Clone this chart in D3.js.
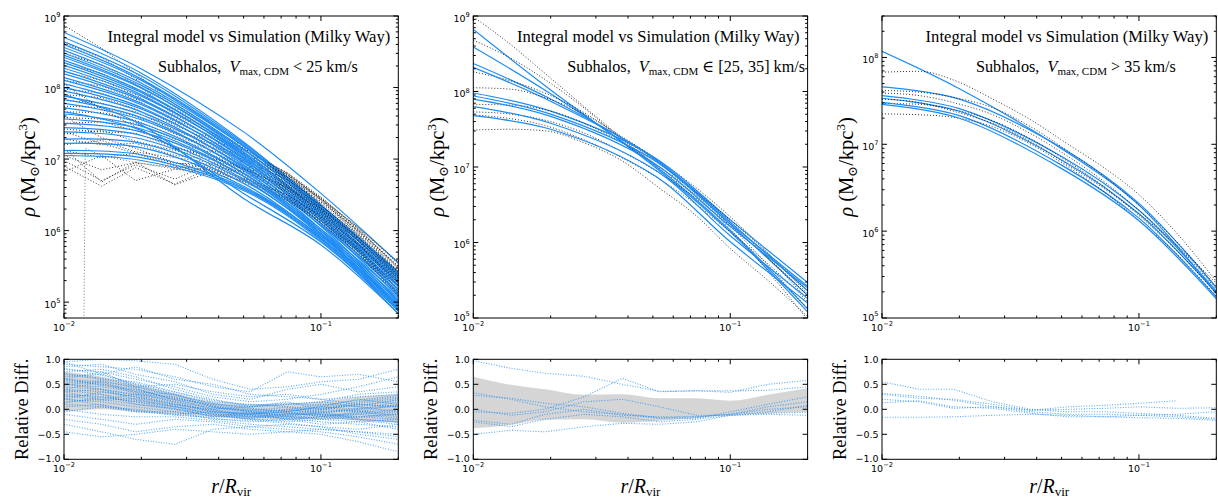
<!DOCTYPE html>
<html>
<head>
<meta charset="utf-8">
<script src="https://cdn.jsdelivr.net/npm/d3@7"></script>
<style>
  body { margin: 0; background: #fff; }
  svg text { white-space: pre; }
</style>
</head>
<body>
<svg id="fig" width="1218" height="500"></svg>
<script>
// ---------------- data ----------------
// radial sampling (r / R_vir)
const radiiModel = [0.01, 0.02, 0.05, 0.1, 0.2];
const radiiSim = [0.010, 0.014, 0.019, 0.027, 0.038, 0.053, 0.074, 0.10, 0.14, 0.20];

// Milky Way subhalos, Vmax,CDM < 25 km/s : log10 rho [Msun/kpc^3]
const lowModel = [
  [8.77, 8.26, 7.38, 6.52, 5.55], [8.70, 8.20, 7.24, 6.34, 5.40], [8.64, 8.16, 7.22, 6.36, 5.42],
  [8.60, 8.12, 7.20, 6.32, 5.36], [8.56, 8.10, 7.18, 6.31, 5.35], [8.52, 8.06, 7.18, 6.34, 5.42],
  [8.48, 8.03, 7.14, 6.28, 5.30], [8.45, 8.00, 7.10, 6.24, 5.27], [8.42, 7.99, 7.13, 6.30, 5.38],
  [8.38, 7.95, 7.07, 6.21, 5.22], [8.35, 7.93, 7.09, 6.26, 5.33], [8.31, 7.90, 7.04, 6.18, 5.18],
  [8.27, 7.88, 7.06, 6.24, 5.30], [8.23, 7.84, 7.00, 6.14, 5.12], [8.19, 7.82, 7.02, 6.20, 5.27],
  [8.14, 7.78, 6.96, 6.10, 5.08], [8.10, 7.76, 6.98, 6.17, 5.24], [8.05, 7.72, 6.92, 6.06, 5.03],
  [8.00, 7.70, 6.95, 6.14, 5.22], [7.95, 7.66, 6.88, 6.02, 5.00], [7.90, 7.48, 6.45, 5.80, 4.84],
  [7.88, 7.62, 6.90, 6.10, 5.18], [7.83, 7.58, 6.84, 5.99, 4.97], [7.78, 7.55, 6.86, 6.07, 5.15],
  [7.72, 7.50, 6.80, 5.96, 4.94], [7.66, 7.40, 6.52, 5.84, 4.88], [7.63, 7.46, 6.80, 6.02, 5.10],
  [7.56, 7.42, 6.76, 5.95, 4.95], [7.50, 7.38, 6.76, 5.99, 5.06], [7.44, 7.33, 6.72, 5.93, 4.92],
  [7.38, 7.28, 6.70, 5.96, 5.02], [7.28, 7.22, 6.66, 5.90, 4.90], [7.22, 7.16, 6.62, 5.92, 4.98],
  [7.12, 7.06, 6.60, 5.88, 4.88], [7.08, 7.02, 6.58, 5.89, 4.94], [7.05, 6.98, 6.56, 5.86, 4.84]
];
const lowSim = [
  [8.87, 8.55, 8.20, 7.76, 7.43, 7.10, 6.78, 6.37, 5.85, 5.23],
  [8.62, 8.42, 8.12, 7.72, 7.40, 7.10, 6.80, 6.43, 5.94, 5.36],
  [8.48, 8.32, 8.05, 7.66, 7.37, 7.08, 6.80, 6.45, 5.98, 5.43],
  [8.34, 8.20, 7.98, 7.62, 7.35, 7.07, 6.81, 6.47, 6.02, 5.48],
  [8.22, 8.10, 7.90, 7.56, 7.31, 7.04, 6.78, 6.45, 6.02, 5.50],
  [8.10, 8.02, 7.84, 7.52, 7.28, 7.03, 6.78, 6.46, 6.04, 5.54],
  [7.98, 7.92, 7.76, 7.47, 7.25, 7.01, 6.76, 6.43, 6.00, 5.48],
  [7.90, 7.86, 7.70, 7.42, 7.22, 6.98, 6.74, 6.41, 5.98, 5.46],
  [7.82, 7.78, 7.66, 7.40, 7.20, 6.98, 6.75, 6.44, 6.04, 5.56],
  [7.74, 7.72, 7.60, 7.35, 7.17, 6.95, 6.71, 6.38, 5.96, 5.43],
  [7.66, 7.65, 7.54, 7.32, 7.15, 6.94, 6.71, 6.40, 6.00, 5.50],
  [7.58, 7.56, 7.50, 7.28, 7.12, 6.91, 6.68, 6.35, 5.93, 5.40],
  [7.50, 7.52, 7.40, 7.22, 7.09, 6.88, 6.66, 6.35, 5.94, 5.42],
  [7.42, 7.38, 7.36, 7.16, 7.05, 6.86, 6.64, 6.32, 5.90, 5.36],
  [7.35, 7.40, 7.25, 7.12, 7.01, 6.84, 6.62, 6.31, 5.90, 5.38],
  [7.28, 7.20, 7.22, 7.05, 6.99, 6.82, 6.60, 6.28, 5.85, 5.30],
  [7.20, 7.26, 7.10, 7.02, 6.95, 6.80, 6.58, 6.27, 5.86, 5.33],
  [7.12, 7.02, 7.08, 6.94, 6.93, 6.78, 6.56, 6.25, 5.82, 5.26],
  [7.05, 6.85, 6.95, 6.88, 6.91, 6.76, 6.54, 6.23, 5.80, 5.23],
  [6.98, 6.70, 6.92, 6.72, 6.95, 6.72, 6.50, 6.19, 5.76, 5.18],
  [6.90, 6.62, 6.88, 6.65, 6.89, 6.70, 6.48, 6.17, 5.74, 5.16],
  [6.82, 7.05, 6.70, 6.86, 6.79, 6.68, 6.46, 6.15, 5.72, 5.13],
  [7.15, 6.68, 6.96, 6.64, 6.83, 6.66, 6.44, 6.13, 5.70, 5.10],
  [7.38, 7.22, 7.08, 6.90, 6.85, 6.64, 6.42, 6.11, 5.68, 5.08],
  [7.60, 7.30, 7.15, 6.95, 6.87, 6.70, 6.50, 6.21, 5.80, 5.28],
  [8.05, 7.70, 7.45, 7.15, 7.03, 6.83, 6.60, 6.30, 5.88, 5.33]
];
// one simulated profile that has no particles inside r = 0.0118
const lowSimEmptyCoreRadii = [0.0118, 0.0121, 0.014, 0.019, 0.027, 0.038, 0.053, 0.074, 0.10, 0.14, 0.20];
const lowSimEmptyCore = [2.0, 7.15, 7.05, 6.95, 6.86, 6.85, 6.68, 6.44, 6.13, 5.70, 5.13];

const lowResid = [
  [0.95, 1.00, 0.97, 0.90, 0.60, 0.40, 0.45, 0.55, 0.60, 0.80],
  [0.90, 0.85, 0.80, 0.65, 0.45, 0.35, 0.75, 0.65, 0.70, 0.55],
  [0.85, 0.90, 0.70, 0.55, 0.30, 0.20, 0.40, 0.50, 0.35, 0.45],
  [0.80, 0.75, 0.60, 0.45, 0.25, 0.15, 0.20, 0.30, 0.45, 0.65],
  [0.75, 0.80, 0.65, 0.40, 0.20, 0.05, 0.10, 0.15, 0.30, 0.35],
  [0.70, 0.60, 0.55, 0.35, 0.15, 0.10, 0.05, 0.00, 0.15, 0.25],
  [0.65, 0.70, 0.50, 0.30, 0.10, 0.00, -0.05, 0.05, 0.20, 0.10],
  [0.60, 0.55, 0.45, 0.25, 0.05, -0.05, 0.00, 0.10, 0.05, 0.20],
  [0.55, 0.50, 0.40, 0.20, 0.00, -0.10, -0.10, 0.00, 0.10, 0.05],
  [0.50, 0.45, 0.35, 0.30, 0.05, -0.05, -0.15, -0.05, 0.00, 0.15],
  [0.45, 0.40, 0.30, 0.15, -0.05, -0.10, -0.05, 0.05, -0.05, 0.00],
  [0.40, 0.35, 0.25, 0.10, -0.02, -0.15, -0.10, -0.10, -0.10, -0.05],
  [0.35, 0.40, 0.20, 0.05, -0.05, -0.08, -0.20, -0.15, -0.05, -0.15],
  [0.30, 0.25, 0.15, 0.05, -0.10, -0.12, -0.15, -0.20, -0.15, -0.10],
  [0.25, 0.30, 0.10, 0.00, -0.08, -0.18, -0.12, -0.05, -0.20, -0.25],
  [0.20, 0.15, 0.05, -0.05, -0.12, -0.20, -0.25, -0.20, -0.25, -0.20],
  [0.15, 0.20, 0.10, 0.02, -0.15, -0.15, -0.18, -0.25, -0.30, -0.35],
  [0.10, 0.05, 0.00, -0.10, -0.18, -0.25, -0.20, -0.30, -0.25, -0.40],
  [0.05, 0.10, -0.05, -0.05, -0.20, -0.22, -0.28, -0.35, -0.40, -0.30],
  [0.00, -0.10, -0.15, -0.15, -0.22, -0.30, -0.35, -0.40, -0.45, -0.55],
  [-0.10, -0.20, -0.30, -0.20, -0.25, -0.35, -0.40, -0.45, -0.55, -0.70],
  [-0.20, -0.30, -0.45, -0.35, -0.30, -0.40, -0.45, -0.50, -0.65, -0.85],
  [-0.30, -0.45, -0.60, -0.70, -0.40, -0.35, -0.30, -0.35, -0.50, -0.60],
  [-0.45, -0.55, -0.50, -0.40, -0.45, -0.50, -0.45, -0.40, -0.45, -0.50],
  [0.95, 0.70, 0.85, 0.60, 0.50, 0.30, 0.25, 0.20, 0.10, 0.05],
  [0.60, 0.75, 0.45, 0.50, 0.35, 0.25, 0.30, 0.20, 0.25, 0.30],
  [0.35, 0.20, 0.30, 0.20, 0.10, 0.05, 0.10, 0.15, 0.05, -0.05],
  [0.20, 0.35, 0.25, 0.10, 0.00, 0.05, 0.15, 0.00, -0.05, 0.10],
  [-0.05, 0.05, -0.05, -0.10, -0.05, -0.10, 0.00, -0.10, -0.15, -0.20],
  [0.40, 0.55, 0.35, 0.15, 0.02, -0.02, -0.08, -0.12, -0.20, -0.25],
  [0.62, 0.48, 0.38, 0.22, 0.08, -0.04, -0.12, -0.08, 0.02, 0.08],
  [0.48, 0.58, 0.42, 0.18, 0.04, -0.08, -0.06, -0.14, -0.08, -0.02],
  [0.72, 0.62, 0.46, 0.28, 0.12, 0.02, -0.04, 0.02, 0.08, 0.18],
  [0.28, 0.18, 0.22, 0.08, -0.02, -0.12, -0.18, -0.10, -0.16, -0.08],
  [0.52, 0.40, 0.28, 0.12, -0.06, -0.16, -0.08, -0.02, 0.12, 0.22],
  [0.12, 0.25, 0.15, 0.00, -0.14, -0.06, -0.14, -0.18, -0.10, -0.18],
  [0.82, 0.68, 0.52, 0.34, 0.18, 0.08, 0.12, 0.08, 0.18, 0.28],
  [0.38, 0.30, 0.18, 0.06, -0.10, -0.20, -0.22, -0.14, -0.22, -0.30],
  [0.58, 0.52, 0.32, 0.24, 0.06, -0.02, 0.04, -0.06, -0.02, -0.12],
  [0.22, 0.08, -0.02, -0.12, -0.16, -0.10, -0.02, 0.06, 0.00, 0.06]
];
const lowBandLo = [-0.05, 0.00, -0.05, -0.10, -0.15, -0.20, -0.20, -0.20, -0.22, -0.28];
const lowBandHi = [0.75, 0.65, 0.50, 0.32, 0.15, 0.10, 0.10, 0.15, 0.25, 0.30];

// Vmax,CDM in [25, 35] km/s
const midModel = [
  [8.82, 8.02, 7.02, 6.14, 5.08], [8.59, 7.97, 7.04, 6.16, 5.12], [8.37, 7.90, 7.12, 6.24, 5.30],
  [8.32, 7.87, 7.13, 6.27, 5.36], [7.98, 7.74, 7.14, 6.30, 5.47], [7.94, 7.70, 7.10, 6.25, 5.42],
  [7.90, 7.67, 7.06, 6.21, 5.40], [7.80, 7.58, 6.98, 6.09, 5.26], [7.68, 7.50, 6.90, 6.01, 5.20]
];
const midSim = [
  [8.99, 8.62, 8.24, 7.80, 7.38, 6.98, 6.60, 6.18, 5.62, 4.98],
  [8.68, 8.44, 8.16, 7.78, 7.36, 7.00, 6.62, 6.22, 5.70, 5.12],
  [8.26, 8.14, 7.98, 7.72, 7.38, 7.04, 6.68, 6.28, 5.80, 5.25],
  [8.05, 8.03, 7.92, 7.70, 7.40, 7.08, 6.72, 6.34, 5.86, 5.32],
  [7.83, 7.82, 7.76, 7.58, 7.32, 7.00, 6.66, 6.30, 5.86, 5.36],
  [7.73, 7.70, 7.62, 7.45, 7.20, 6.92, 6.58, 6.22, 5.80, 5.30],
  [7.69, 7.64, 7.55, 7.36, 7.12, 6.84, 6.50, 6.14, 5.72, 5.22],
  [7.49, 7.50, 7.48, 7.32, 7.08, 6.72, 6.35, 5.92, 5.50, 5.02]
];
const midResid = [
  [0.97, 0.82, 0.72, 0.66, 0.50, 0.36, 0.37, 0.34, 0.50, 0.58],
  [-0.05, -0.08, 0.00, 0.25, 0.62, 0.35, 0.37, 0.37, 0.38, 0.45],
  [0.33, 0.20, 0.05, -0.05, -0.10, -0.18, -0.18, -0.05, 0.10, 0.25],
  [0.28, 0.22, 0.12, 0.05, -0.08, -0.17, -0.15, -0.10, 0.05, 0.15],
  [0.00, -0.12, -0.05, 0.15, 0.20, 0.05, -0.12, -0.12, -0.10, -0.12],
  [-0.22, -0.30, -0.10, 0.00, -0.12, -0.15, -0.15, -0.10, 0.00, 0.05],
  [-0.25, -0.35, -0.20, -0.10, -0.15, -0.25, -0.20, -0.12, -0.05, 0.08],
  [-0.50, -0.42, -0.45, -0.35, -0.28, -0.30, -0.25, -0.12, -0.08, -0.06]
];
const midBandLo = [-0.38, -0.31, -0.21, -0.20, -0.27, -0.23, -0.18, -0.11, -0.08, -0.05];
const midBandHi = [0.65, 0.49, 0.40, 0.29, 0.30, 0.22, 0.22, 0.17, 0.29, 0.42];

// Vmax,CDM > 35 km/s
const highModel = [
  [8.07, 7.64, 6.95, 6.30, 5.28], [7.66, 7.52, 6.96, 6.32, 5.35], [7.56, 7.41, 6.86, 6.24, 5.31],
  [7.53, 7.38, 6.82, 6.20, 5.29], [7.48, 7.33, 6.76, 6.15, 5.24], [7.46, 7.30, 6.72, 6.12, 5.22]
];
const highSim = [
  [7.83, 7.84, 7.74, 7.52, 7.28, 7.00, 6.72, 6.42, 5.98, 5.42],
  [7.62, 7.60, 7.54, 7.42, 7.20, 6.92, 6.62, 6.30, 5.88, 5.36],
  [7.59, 7.56, 7.48, 7.34, 7.12, 6.86, 6.56, 6.24, 5.84, 5.33],
  [7.47, 7.46, 7.40, 7.27, 7.06, 6.80, 6.50, 6.18, 5.78, 5.28],
  [7.35, 7.34, 7.31, 7.20, 7.00, 6.74, 6.44, 6.12, 5.74, 5.25],
  [7.52, 7.48, 7.38, 7.24, 7.03, 6.76, 6.48, 6.20, 5.84, 5.40]
];
const highResid = [
  [0.55, 0.40, 0.40, 0.15, 0.00, -0.05, -0.05, -0.08, -0.12, -0.18],
  [0.32, 0.26, 0.18, 0.05, -0.05, -0.10, -0.10, -0.12, -0.15, -0.20],
  [0.30, 0.22, 0.20, 0.10, -0.02, 0.05, 0.08, 0.12, 0.17, null],
  [0.20, 0.15, 0.02, 0.05, -0.02, 0.00, 0.02, 0.05, 0.02, 0.03],
  [0.13, 0.17, 0.05, 0.02, -0.08, -0.15, -0.15, -0.12, -0.10, -0.05],
  [-0.16, -0.16, -0.15, -0.12, -0.10, -0.12, -0.15, -0.17, -0.18, -0.22]
];

const panelTitle = "Integral model vs Simulation (Milky Way)";
const binLabels = [" < 25 km/s", " \u2208 [25, 35] km/s", " > 35 km/s"];
const rhoDomains = [[6e4, 1e9], [1e5, 1e9], [1e5, 3e8]];
const xTickValues = [0.01, 0.1];
const xTickExps = ["\u22122", "\u22121"];
const residTicks = [-1.0, -0.5, 0.0, 0.5, 1.0];

// ---------------- drawing ----------------
const svg = d3.select("#fig");
const SERIF = "'Liberation Serif', 'DejaVu Serif', serif";
const SANS = "'DejaVu Sans', sans-serif";
const BLUE = "#1e8cf5";
const colLeft = [64, 473.3, 882];
const colW = 334.3;
const topY = [16, 318];
const botY = [359.3, 459.3];

const columns = [
  {model: lowModel, sim: lowSim, resid: lowResid, lo: lowBandLo, hi: lowBandHi},
  {model: midModel, sim: midSim, resid: midResid, lo: midBandLo, hi: midBandHi},
  {model: highModel, sim: highSim, resid: highResid, lo: null, hi: null}
];

function pairs(radii, vals) {
  return radii.map((r, i) => [r, vals[i]]).filter(d => d[1] !== null && d[1] !== undefined);
}

function logMinorTicks(lo, hi) {
  const out = [];
  for (let e = Math.floor(Math.log10(lo)); e <= Math.ceil(Math.log10(hi)); e++) {
    for (let k = 1; k <= 9; k++) {
      const v = k * Math.pow(10, e);
      if (v >= lo * 0.9999 && v <= hi * 1.0001) out.push({v, major: k === 1});
    }
  }
  return out;
}

function expLabel(g, x, y, anchor, exp, size) {
  const t = g.append("text").attr("x", x).attr("y", y).attr("text-anchor", anchor)
    .attr("font-family", SANS).attr("font-size", size);
  t.append("tspan").text("10");
  t.append("tspan").attr("dy", -4.5).attr("font-size", size * 0.7).text(exp);
  return t;
}

const defs = svg.append("defs");

columns.forEach((col, c) => {
  const left = colLeft[c], right = left + colW;
  const x = d3.scaleLog().domain([0.01, 0.2]).range([left, right]);
  const y = d3.scaleLog().domain(rhoDomains[c]).range([topY[1], topY[0]]);
  const yr = d3.scaleLinear().domain([-1, 1]).range([botY[1], botY[0]]);
  const g = svg.append("g");

  defs.append("clipPath").attr("id", "clipT" + c).append("rect")
    .attr("x", left).attr("y", topY[0]).attr("width", colW).attr("height", topY[1] - topY[0]);
  defs.append("clipPath").attr("id", "clipB" + c).append("rect")
    .attr("x", left).attr("y", botY[0]).attr("width", colW).attr("height", botY[1] - botY[0]);

  // ---- density profiles: model (solid) and simulation (dotted)
  const gt = g.append("g").attr("clip-path", `url(#clipT${c})`);
  const modelLine = d3.line().x(d => x(d[0])).y(d => y(Math.pow(10, d[1])))
    .curve(d3.curveCatmullRom.alpha(0.5));
  const simLine = d3.line().x(d => x(d[0])).y(d => y(Math.pow(10, d[1])))
    .curve(c === 0 ? d3.curveLinear : d3.curveMonotoneX);
  const n = Math.max(col.model.length, col.sim.length);
  for (let i = 0; i < n; i++) {
    if (i < col.model.length)
      gt.append("path").attr("d", modelLine(pairs(radiiModel, col.model[i])))
        .attr("fill", "none").attr("stroke", BLUE).attr("stroke-width", 1.2);
    if (i < col.sim.length)
      gt.append("path").attr("d", simLine(pairs(radiiSim, col.sim[i])))
        .attr("fill", "none").attr("stroke", "#111").attr("stroke-width", 1)
        .attr("stroke-dasharray", "1,2").attr("opacity", 0.85);
  }
  if (c === 0) {
    gt.append("path").attr("d", d3.line().x(d => x(d[0])).y(d => y(Math.pow(10, d[1])))
        (pairs(lowSimEmptyCoreRadii, lowSimEmptyCore)))
      .attr("fill", "none").attr("stroke", "#555").attr("stroke-width", 1)
      .attr("stroke-dasharray", "1,2").attr("opacity", 0.8);
  }

  // ---- relative difference
  const gb = g.append("g").attr("clip-path", `url(#clipB${c})`);
  if (col.lo) {
    const area = d3.area().x((d, i) => x(radiiSim[i]))
      .y0((d, i) => yr(col.lo[i])).y1((d, i) => yr(col.hi[i])).curve(d3.curveMonotoneX);
    gb.append("path").attr("d", area(col.lo)).attr("fill", "#d5d5d5");
  }
  const residLine = d3.line().x(d => x(d[0])).y(d => yr(d[1]));
  col.resid.forEach(vals => {
    gb.append("path").attr("d", residLine(pairs(radiiSim, vals)))
      .attr("fill", "none").attr("stroke", BLUE).attr("stroke-width", 1.1)
      .attr("stroke-dasharray", "1,1.6").attr("opacity", 0.75);
  });

  // ---- frames and ticks
  const frames = [
    {y0: topY[0], y1: topY[1], yScale: y, log: true},
    {y0: botY[0], y1: botY[1], yScale: yr, log: false}
  ];
  frames.forEach(f => {
    const fa = g.append("g").attr("stroke", "#000").attr("stroke-width", 1);
    fa.append("rect").attr("x", left).attr("y", f.y0).attr("width", colW).attr("height", f.y1 - f.y0)
      .attr("fill", "none");
    logMinorTicks(0.01, 0.2).forEach(t => {
      const len = t.major ? 5 : 2.5;
      const px = x(t.v);
      fa.append("line").attr("x1", px).attr("x2", px).attr("y1", f.y1).attr("y2", f.y1 - len);
      fa.append("line").attr("x1", px).attr("x2", px).attr("y1", f.y0).attr("y2", f.y0 + len);
    });
    xTickValues.forEach((v, i) => {
      expLabel(g, x(v), f.y1 + 12.5, "middle", xTickExps[i], 9.5);
    });
    if (f.log) {
      const d = f.yScale.domain();
      logMinorTicks(d[0], d[1]).forEach(t => {
        const len = t.major ? 5 : 2.5;
        const py = f.yScale(t.v);
        fa.append("line").attr("x1", left).attr("x2", left + len).attr("y1", py).attr("y2", py);
        fa.append("line").attr("x1", right).attr("x2", right - len).attr("y1", py).attr("y2", py);
        const atEdge = Math.abs(py - f.y1) < 1;
        if (t.major) expLabel(g, left - 3.5, py + (atEdge ? 2.5 : 5.5), "end",
          String(Math.round(Math.log10(t.v))), 9.5);
      });
    } else {
      residTicks.forEach(v => {
        const py = f.yScale(v);
        fa.append("line").attr("x1", left).attr("x2", left + 5).attr("y1", py).attr("y2", py);
        fa.append("line").attr("x1", right).attr("x2", right - 5).attr("y1", py).attr("y2", py);
        g.append("text").attr("x", left - 3.5).attr("y", py + (v === -1 ? 2.5 : 3.5)).attr("text-anchor", "end")
          .attr("font-family", SANS).attr("font-size", 9.5)
          .text(d3.format(".1f")(v).replace("-", "\u2212"));
      });
    }
  });

  // ---- annotations
  g.append("text").attr("x", right - 8).attr("y", 42).attr("text-anchor", "end")
    .attr("font-family", SERIF).attr("font-size", 16.6).text(panelTitle);
  const t2 = g.append("text").attr("x", left + 94).attr("y", 72)
    .attr("font-family", SERIF).attr("font-size", 16.2);
  t2.append("tspan").text("Subhalos,  ");
  t2.append("tspan").attr("font-style", "italic").text("V");
  t2.append("tspan").attr("font-size", 11).attr("dy", 3).text("max, CDM");
  t2.append("tspan").attr("dy", -3).text(binLabels[c]);

  const yl = g.append("text").attr("transform", `translate(${left - 29},${(topY[0] + topY[1]) / 2}) rotate(-90)`)
    .attr("text-anchor", "middle").attr("font-family", SERIF).attr("font-size", 20.5);
  yl.append("tspan").attr("font-style", "italic").text("\u03c1");
  yl.append("tspan").text(" (M");
  yl.append("tspan").attr("font-size", 13).attr("dy", 4).text("\u2299");
  yl.append("tspan").attr("dy", -4).text("/kpc");
  yl.append("tspan").attr("font-size", 13).attr("dy", -8).text("3");
  yl.append("tspan").attr("dy", 8).text(")");

  g.append("text").attr("transform", `translate(${left - 36},${(botY[0] + botY[1]) / 2}) rotate(-90)`)
    .attr("text-anchor", "middle").attr("font-family", SERIF).attr("font-size", 18.5)
    .text("Relative Diff.");

  const xl = g.append("text").attr("x", (left + right) / 2).attr("y", 493)
    .attr("text-anchor", "middle").attr("font-family", SERIF).attr("font-size", 20);
  xl.append("tspan").attr("font-style", "italic").text("r");
  xl.append("tspan").text("/");
  xl.append("tspan").attr("font-style", "italic").text("R");
  xl.append("tspan").attr("font-size", 13).attr("dy", 3).text("vir");
});
</script>
</body>
</html>
